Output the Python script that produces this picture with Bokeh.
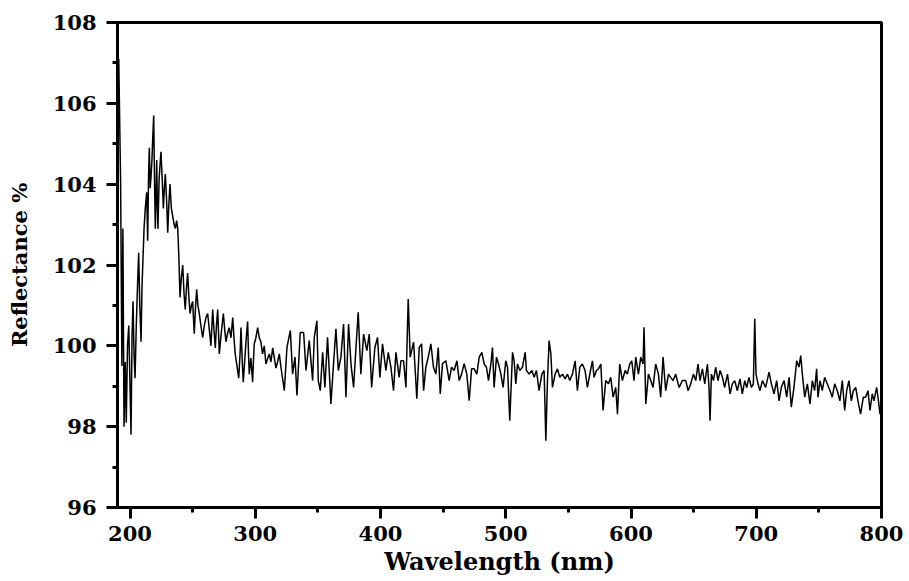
from bokeh.plotting import figure
from bokeh.models import Range1d, SingleIntervalTicker, ColumnDataSource
from bokeh.embed import file_html
from bokeh.resources import INLINE

# ---- data (wavelength nm, reflectance %) ----
nm_uv = [191.0, 192.5, 193.5, 194.3, 195.2, 196.2, 197.0, 198.0, 199.0, 200.0,
         200.8, 201.6, 202.4, 203.2, 204.0, 205.0, 206.0, 206.9, 207.8, 208.8,
         209.6, 210.4, 211.2, 212.2, 213.3, 214.1, 214.8, 215.4, 216.1, 216.8,
         217.5, 218.1, 218.9, 219.6, 220.2, 220.8, 221.3, 221.8, 222.3, 223.2,
         224.0, 224.7, 225.6, 226.6, 227.4, 228.2, 229.2, 230.1, 231.0, 231.9,
         233.0, 234.1, 235.2, 236.2, 237.2, 238.1, 239.0, 239.9, 241.0, 242.1,
         243.1, 244.1, 245.0, 246.0, 247.0, 247.9, 249.0, 250.0, 251.3, 252.2,
         253.2, 254.2, 255.3, 256.6, 258.0, 259.3, 260.6, 262.0, 263.3, 264.6,
         266.0, 267.0, 268.1, 269.0, 270.0, 271.3, 272.8, 274.5, 275.6, 276.6,
         277.8, 279.2, 280.6, 282.0, 283.0, 284.0, 285.4, 286.8, 288.0, 288.6,
         289.5, 290.4, 291.5, 292.8, 293.9, 294.5, 295.2, 296.5, 297.9, 298.5,
         299.2, 300.5, 301.9, 303.2, 304.5, 305.8, 307.2, 308.5, 310.0, 311.2,
         312.5, 313.9, 315.2, 316.5, 317.8, 319.2]
r_uv = [107.1, 104.0, 99.5, 102.9, 98.0, 99.6, 98.1, 100.0, 100.5, 99.0,
        97.8, 100.2, 101.1, 99.8, 99.2, 100.5, 101.5, 102.3, 101.0, 100.1,
        101.5, 102.2, 102.9, 103.4, 103.8, 102.6, 104.2, 104.9, 103.9, 104.2,
        104.6, 105.1, 105.7, 104.0, 102.9, 103.8, 104.6, 103.5, 102.9, 104.1,
        104.5, 104.8, 104.2, 103.4, 103.9, 104.25, 103.6, 102.8, 103.5, 104.0,
        103.4, 103.2, 103.0, 102.9, 103.1, 102.9, 102.2, 101.2, 101.7, 102.0,
        101.3, 100.9, 101.4, 101.8, 101.2, 100.8, 101.0, 101.1, 100.3, 100.9,
        101.4, 101.0, 100.8, 100.5, 100.2, 100.5, 100.7, 100.8, 100.4, 100.0,
        100.9, 100.4, 99.95, 100.5, 100.9, 99.8, 100.3, 100.8, 100.4, 100.1,
        100.3, 100.45, 100.2, 100.7, 100.2, 99.8, 99.5, 99.2, 99.9, 100.45,
        99.7, 99.1, 99.6, 100.2, 100.6, 99.9, 99.3, 99.7, 99.1, 99.6,
        100.05, 100.2, 100.45, 100.2, 100.1, 99.8, 100.0, 99.55, 99.7, 99.8,
        99.6, 99.95, 99.7, 99.45, 99.6, 99.8]

nm_blue = [320.5, 323.2, 325.3, 328.0, 329.8, 331.7, 333.3, 335.9, 338.6, 340.5,
           343.1, 345.8, 347.1, 349.2, 350.3, 351.9, 353.8, 355.6, 357.7, 360.4,
           362.5, 364.4, 366.3, 368.4, 370.5, 372.4, 374.5, 376.4, 378.5, 380.4,
           382.2, 384.3, 386.5, 389.1, 391.0, 392.9, 395.5, 397.6, 399.5, 401.6,
           404.3, 406.2, 408.3, 410.4, 412.3, 414.9, 416.3, 418.4, 420.3, 422.1,
           423.7, 426.4, 429.0, 430.9, 432.8, 434.4, 436.2, 438.1, 440.2, 442.3,
           444.2, 446.1, 447.7, 449.5, 452.2, 454.8, 456.7, 458.8, 461.0, 462.8,
           464.7, 466.8, 468.9, 470.8, 472.7, 474.8, 476.9, 478.8]
r_blue = [99.47, 98.89, 99.96, 100.38, 99.30, 99.72, 98.77, 100.33, 100.33, 99.39,
          100.13, 99.14, 100.21, 100.62, 99.14, 98.89, 99.84, 98.97, 100.21, 98.56,
          99.56, 100.42, 99.39, 99.72, 100.54, 98.73, 100.54, 99.56, 98.97, 99.96,
          100.83, 99.30, 100.29, 99.88, 100.29, 98.97, 99.96, 100.21, 99.22, 100.05,
          99.39, 99.84, 99.47, 98.89, 99.84, 99.22, 99.63, 99.63, 98.97, 101.16,
          99.72, 100.09, 98.69, 99.96, 100.05, 98.89, 99.47, 99.72, 100.05, 99.47,
          99.30, 99.96, 98.81, 99.56, 99.63, 99.14, 99.47, 99.39, 99.63, 99.14,
          99.30, 99.56, 99.30, 98.64, 99.43, 99.43, 99.30, 99.72]

nm_green = [480.9, 482.8, 484.6, 486.2, 488.1, 489.4, 490.7, 492.6, 494.2, 496.1,
            497.9, 500.0, 501.4, 503.2, 505.4, 506.7, 508.0, 509.4, 511.2, 513.3,
            515.5, 516.5, 518.7, 520.8, 522.7, 524.5, 526.6, 528.8, 530.6, 532.0,
            533.3, 534.6, 536.0, 537.3, 539.4, 541.3, 543.1, 545.3, 547.4, 549.3,
            551.1, 553.2, 555.4, 557.2, 559.1, 561.2, 563.3, 565.2, 567.1, 569.2,
            570.5, 572.4, 574.0, 575.9, 577.7, 579.8, 582.0, 583.8, 585.7, 587.8,
            589.2, 591.0, 593.1, 595.3, 597.1, 599.0, 600.6, 602.4, 603.8, 605.9,
            607.8, 609.6, 610.4, 611.8, 613.9, 615.8, 617.6, 619.7, 621.9, 623.7,
            625.6, 627.7, 629.9, 631.7, 633.6, 635.7, 638.4, 641.0]
r_green = [99.84, 99.55, 99.47, 99.14, 99.55, 99.96, 98.97, 99.72, 99.55, 99.30,
           98.97, 99.63, 99.47, 98.15, 99.84, 99.63, 99.06, 99.55, 99.39, 99.47,
           99.84, 99.39, 99.30, 99.39, 99.22, 99.39, 98.89, 99.30, 99.39, 97.65,
           99.14, 100.13, 99.80, 98.97, 99.30, 99.43, 99.22, 99.30, 99.18, 99.30,
           99.14, 99.30, 99.63, 98.89, 99.47, 99.55, 99.39, 98.97, 99.30, 99.63,
           99.22, 99.39, 99.43, 99.55, 98.40, 99.14, 99.06, 99.22, 98.73, 98.97,
           98.31, 99.55, 99.14, 99.39, 99.30, 99.55, 99.63, 99.14, 99.72, 99.30,
           99.72, 99.55, 100.46, 98.56, 99.30, 99.14, 98.97, 99.55, 99.30, 98.73,
           99.72, 98.89, 99.30, 99.22, 99.14, 99.30, 98.97, 99.14]

nm_red = [643.7, 645.6, 647.7, 649.8, 651.7, 653.5, 655.1, 657.0, 658.9, 661.0,
          662.3, 663.1, 664.2, 665.8, 667.6, 669.5, 671.1, 673.0, 674.8, 677.0,
          679.1, 680.9, 682.8, 684.9, 687.0, 688.9, 690.8, 692.4, 694.2, 696.1,
          697.7, 698.8, 699.8, 701.4, 703.0, 704.9, 707.5, 710.2, 712.1, 714.2,
          716.3, 718.2, 720.0, 722.2, 724.3, 726.2, 728.0, 730.1, 732.3, 734.1,
          735.5, 736.8, 738.7, 740.8, 742.9, 744.8, 746.6, 748.2, 749.3, 750.9,
          752.7, 754.6, 756.7, 758.9, 760.7, 762.6, 764.7, 766.8, 768.7, 770.6,
          772.2, 774.0, 775.9, 777.5, 779.4, 781.2, 783.3, 785.5, 787.3, 789.2,
          790.8, 792.6, 794.0, 796.1, 797.2, 798.8, 800.0]
r_red = [99.14, 98.89, 99.06, 99.30, 99.14, 99.55, 99.14, 99.43, 99.06, 99.55,
         98.97, 98.15, 99.30, 99.14, 99.47, 99.14, 99.39, 99.22, 98.97, 99.30,
         98.81, 99.06, 99.14, 98.89, 99.18, 98.81, 99.14, 98.97, 99.22, 98.97,
         99.06, 100.67, 99.30, 99.06, 98.89, 99.14, 98.97, 99.35, 99.06, 98.81,
         99.14, 98.64, 98.97, 99.14, 98.73, 99.22, 98.48, 98.97, 99.63, 99.47,
         99.76, 99.30, 98.73, 99.06, 98.56, 99.14, 98.89, 99.43, 98.73, 99.14,
         98.89, 99.22, 99.06, 98.89, 98.73, 99.06, 98.89, 98.64, 99.14, 98.40,
         98.89, 99.14, 98.64, 98.89, 98.97, 98.64, 98.31, 98.73, 98.73, 98.89,
         98.40, 98.81, 98.64, 98.97, 98.73, 98.31, 98.6]

x_ticks_interval = 100
y_ticks_interval = 2

wavelength = nm_uv + nm_blue + nm_green + nm_red
reflectance = r_uv + r_blue + r_green + r_red
assert len(wavelength) == len(reflectance)

src = ColumnDataSource(data=dict(x=wavelength, y=reflectance))

FONT = "DejaVu Serif"

p = figure(width=909, height=581, output_backend="svg", toolbar_location=None,
           x_range=Range1d(190, 800), y_range=Range1d(96, 108),
           min_border_left=117, min_border_right=28, min_border_top=22,
           min_border_bottom=74, background_fill_color="white",
           border_fill_color="white")

p.line("x", "y", source=src, line_color="black", line_width=1.5)

p.xgrid.visible = False
p.ygrid.visible = False
p.outline_line_color = "black"
p.outline_line_width = 3
p.outline_line_alpha = 1.0

p.xaxis.ticker = SingleIntervalTicker(interval=x_ticks_interval, num_minor_ticks=2)
p.yaxis.ticker = SingleIntervalTicker(interval=y_ticks_interval, num_minor_ticks=2)

for ax in (p.xaxis, p.yaxis):
    ax.axis_line_width = 3
    ax.axis_line_color = "black"
    ax.major_tick_line_width = 3
    ax.minor_tick_line_width = 3
    ax.major_tick_in = 0
    ax.minor_tick_in = 0
    ax.major_tick_out = 11
    ax.minor_tick_out = 5
    ax.major_label_text_font = FONT
    ax.major_label_text_font_style = "bold"
    ax.major_label_text_font_size = "21px"
    ax.major_label_text_color = "black"
    ax.axis_label_text_font = FONT
    ax.axis_label_text_font_style = "bold"
    ax.axis_label_text_color = "black"

p.xaxis.axis_label = "Wavelength (nm)"
p.xaxis.axis_label_text_font_size = "24px"
p.xaxis.major_label_standoff = 7
p.xaxis.axis_label_standoff = 3

p.yaxis.axis_label = "Reflectance %"
p.yaxis.axis_label_text_font_size = "21px"
p.yaxis.major_label_standoff = 10
p.yaxis.axis_label_standoff = 18

open("out.html", "w").write(file_html(p, INLINE))
